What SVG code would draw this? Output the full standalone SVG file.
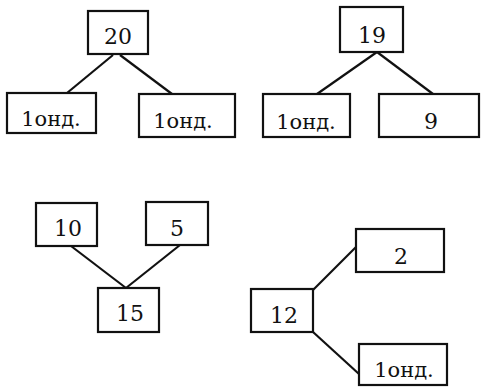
<svg xmlns="http://www.w3.org/2000/svg" width="481" height="387" viewBox="0 0 481 387">
<style>
rect{fill:#fff;stroke:#111;stroke-width:2.2}
line{stroke:#111;stroke-width:2.2}
text{font-family:'DejaVu Serif',serif;font-size:22px;fill:#111;text-anchor:middle}
.s{font-size:21px}
</style>
<rect x="0" y="0" width="481" height="387" style="fill:#fff;stroke:none"/>
<g id="connectors">
<line x1="113" y1="55" x2="67" y2="93"/>
<line x1="120" y1="55" x2="172" y2="94"/>
<line x1="377" y1="52" x2="317" y2="94"/>
<line x1="377" y1="52" x2="433" y2="94"/>
<line x1="71" y1="246" x2="126" y2="288"/>
<line x1="180" y1="245" x2="126" y2="288"/>
<line x1="313" y1="290" x2="356" y2="247"/>
<line x1="313" y1="332" x2="359" y2="374"/>
</g>
<g id="n20"><rect x="88" y="11" width="60" height="43"/><text x="118" y="44">20</text></g>
<g id="n20a"><rect x="7" y="93" width="89" height="40"/><text class="s" x="51" y="126">1онд.</text></g>
<g id="n20b"><rect x="139" y="94" width="96" height="43"/><text class="s" x="183" y="128">1онд.</text></g>
<g id="n19"><rect x="340" y="7" width="63" height="45"/><text x="372" y="43">19</text></g>
<g id="n19a"><rect x="263" y="94" width="87" height="43"/><text class="s" x="306" y="129">1онд.</text></g>
<g id="n19b"><rect x="379" y="94" width="100" height="43"/><text x="431" y="129">9</text></g>
<g id="n10"><rect x="36" y="203" width="61" height="43"/><text x="68" y="236">10</text></g>
<g id="n5"><rect x="146" y="202" width="62" height="43"/><text x="177" y="236">5</text></g>
<g id="n15"><rect x="98" y="288" width="61" height="44"/><text x="130" y="321">15</text></g>
<g id="n2"><rect x="356" y="229" width="88" height="43"/><text x="401" y="264">2</text></g>
<g id="n12"><rect x="251" y="289" width="62" height="43"/><text x="284" y="323">12</text></g>
<g id="n12b"><rect x="359" y="344" width="88" height="41"/><text class="s" x="404" y="377">1онд.</text></g>
</svg>
